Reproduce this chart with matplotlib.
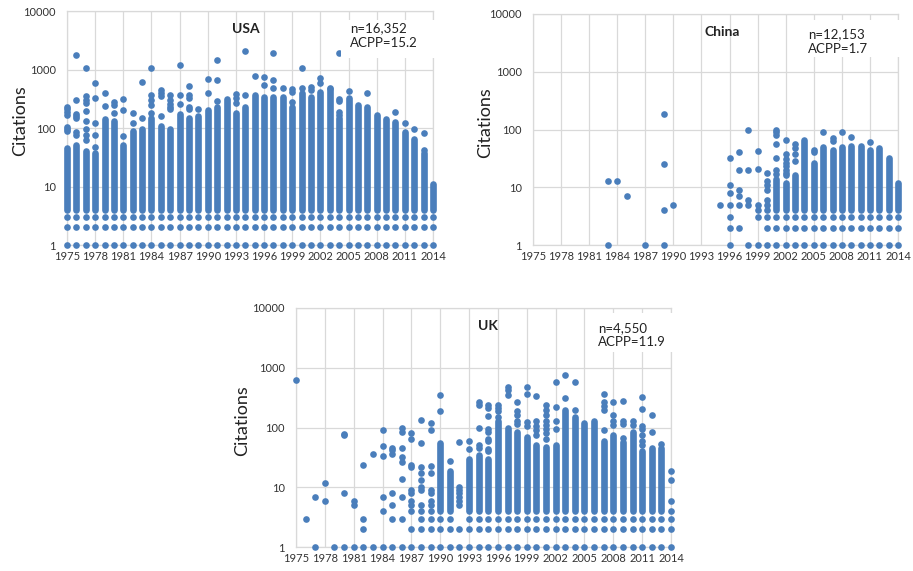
import matplotlib.pyplot as plt
from matplotlib.patches import Rectangle
from matplotlib.ticker import FixedLocator, FixedFormatter, NullLocator

plt.rcParams['font.family'] = ['Lato', 'DejaVu Sans']

years = list(range(1975, 2015))
tick_years = list(range(1975, 2015, 3))
y_ticks = [1, 10, 100, 1000, 10000]
y_tick_labels = ['1', '10', '100', '1000', '10000']

# columns drawn as a solid stack of dots from band_bottom up to band_top
# (0 = no solid stack that year); years with a stack also have the 1, 2, 3 rows
band_bottom = 4
band_base = [1, 2, 3]

usa_band_top = [45, 52, 40, 37, 140, 130, 52, 90, 95, 150,
                110, 95, 175, 150, 160, 200, 230, 310, 180, 230,
                360, 345, 340, 340, 230, 400, 340, 420, 470, 150,
                320, 250, 230, 165, 145, 128, 87, 66, 38, 11]
usa_points = [
    [230, 210, 185, 170, 105, 95, 88],
    [1750, 300, 175, 160, 150, 85, 75],
    [1050, 350, 300, 265, 195, 130, 98, 76, 62],
    [580, 330, 120, 76, 48],
    [400, 235],
    [280, 250, 180],
    [310, 205, 73],
    [180, 120],
    [600, 150],
    [1050, 370, 300, 250, 180],
    [440, 400, 350, 160],
    [360, 300, 260, 230, 210],
    [1190, 360, 260],
    [520, 360, 320, 230, 210],
    [215],
    [700, 400],
    [1430, 670, 290],
    [],
    [375, 330, 270],
    [2100, 365],
    [790],
    [750, 540],
    [1900, 650, 480],
    [490],
    [470, 420, 280],
    [1050, 490],
    [510, 450],
    [720, 580],
    [480],
    [1950, 310, 290, 190, 165],
    [430],
    [],
    [400],
    [],
    [],
    [190],
    [120],
    [95],
    [82, 42],
    [],
]
usa_stats = "n=16,352\nACPP=15.2"

china_band_top = [0] * 26 + [14, 12, 16, 67, 26, 50, 44, 50, 52, 52, 44, 47, 32, 12]
china_points = [
    [], [], [], [], [], [], [], [],
    [13, 1],
    [13],
    [7],
    [],
    [1],
    [],
    [185, 25, 4, 1],
    [5],
    [], [], [], [],
    [5],
    [32, 11, 8, 5, 3, 2, 1],
    [40, 20, 9, 7, 5, 2],
    [98, 20, 6, 5, 1],
    [42, 21, 5, 4, 3, 1],
    [18, 13, 11, 9, 6, 5, 4, 3, 2, 1],
    [100, 90, 80, 55, 32, 20, 17],
    [67, 38, 31, 26, 23, 20, 18, 16],
    [55, 47, 38, 28],
    [],
    [44, 40],
    [92],
    [70, 64],
    [92],
    [73],
    [],
    [60],
    [],
    [],
    [],
]
china_stats = "n=12,153\nACPP=1.7"

uk_band_top = [0] * 15 + [55, 19, 0, 30, 35, 30, 130, 100, 84, 69,
                          50, 47, 50, 200, 150, 120, 130, 60, 74, 57,
                          84, 40, 45, 45, 0]
uk_points = [
    [620],
    [3],
    [7, 1],
    [12, 6],
    [1],
    [78, 75, 8, 1],
    [6, 5, 1],
    [24, 3, 2, 1],
    [36, 1],
    [90, 49, 34, 7, 4, 1],
    [45, 42, 36, 8, 5, 3, 1],
    [100, 85, 46, 32, 26, 14, 7, 3, 1],
    [80, 65, 24, 22, 9, 8, 6, 5, 4, 2, 1],
    [135, 56, 22, 17, 13, 10, 9, 5, 4, 3, 2, 1],
    [120, 90, 23, 17, 9, 8, 6, 5, 4, 3, 2, 1],
    [355, 190],
    [28],
    [58, 10, 9, 8, 7, 6, 5, 2, 1],
    [60, 44],
    [270, 240, 100, 50, 45],
    [235, 215, 155, 95, 85, 65, 60, 44, 40],
    [235, 215, 190, 150],
    [470, 420, 345],
    [265, 190, 160, 130, 115],
    [470, 370, 125, 108],
    [340, 130, 105, 90, 75],
    [240, 195, 160, 130, 110, 95, 80, 65],
    [575, 220, 130, 95],
    [745, 315],
    [575, 195],
    [],
    [],
    [370, 265, 230, 195, 90],
    [265, 160, 130, 110],
    [280, 130, 115, 67],
    [130, 110],
    [320, 205, 108, 95, 75, 60, 50],
    [160, 84],
    [53],
    [19, 13, 6, 4, 3, 2, 1],
]
uk_stats = "n=4,550\nACPP=11.9"

BLUE = '#4a7ebb'
GRID = '#d9d9d9'
DOT = 4.8  # marker diameter, points

fig = plt.figure(figsize=(9.13, 5.71), dpi=100)
fig.patch.set_facecolor('white')


def draw_panel(rect, band_top, points, name, stats, name_xy, stats_xy, box, ylab_x):
    ax = fig.add_axes(rect)
    ax.set_yscale('log')
    ax.set_xlim(1975, 2014)
    ax.set_ylim(1, 10000)

    # solid columns
    bx = [yr for yr, t in zip(years, band_top) if t]
    bt = [t for t in band_top if t]
    ax.vlines(bx, band_bottom, bt, color=BLUE, linewidth=DOT,
              capstyle='round', clip_on=False, zorder=3)
    # single dots
    px, py = [], []
    for yr, t, vals in zip(years, band_top, points):
        for v in vals:
            px.append(yr)
            py.append(v)
        if t:
            for v in band_base:
                px.append(yr)
                py.append(v)
    ax.plot(px, py, 'o', color=BLUE, markersize=DOT, markeredgewidth=0,
            clip_on=False, zorder=3)

    ax.xaxis.set_major_locator(FixedLocator(tick_years))
    ax.set_xticklabels([str(y) for y in tick_years])
    ax.yaxis.set_major_locator(FixedLocator(y_ticks))
    ax.yaxis.set_major_formatter(FixedFormatter(y_tick_labels))
    ax.yaxis.set_minor_locator(NullLocator())
    ax.tick_params(axis='both', length=0, labelsize=8, colors='#333333')
    ax.tick_params(axis='x', pad=4)
    ax.tick_params(axis='y', pad=8)
    ax.grid(True, color=GRID, linewidth=0.9, zorder=0)
    ax.set_axisbelow(True)
    for sp in ax.spines.values():
        sp.set_color(GRID)
        sp.set_linewidth(0.9)

    ax.add_patch(Rectangle((box[0], box[1]), box[2] - box[0], box[3] - box[1],
                           transform=ax.transAxes, facecolor='white',
                           edgecolor='none', clip_on=False, zorder=5))
    ax.text(name_xy[0], name_xy[1], name, transform=ax.transAxes,
            fontsize=10, fontweight='bold', color='#222222', va='center', zorder=6)
    ax.text(stats_xy[0], stats_xy[1], stats, transform=ax.transAxes,
            fontsize=9.5, color='#222222', va='center', linespacing=1.25, zorder=6)
    ax.text(ylab_x, 0.53, 'Citations', transform=ax.transAxes, rotation=90,
            fontsize=13, color='#222222', ha='center', va='center')
    return ax


draw_panel([0.0734, 0.5709, 0.4009, 0.4098], usa_band_top, usa_points, 'USA',
           usa_stats, (0.45, 0.923), (0.773, 0.895),
           (0.749, 0.799, 1.01, 0.962), -0.128)
draw_panel([0.5838, 0.5709, 0.3998, 0.4046], china_band_top, china_points, 'China',
           china_stats, (0.471, 0.922), (0.753, 0.881),
           (0.732, 0.814, 1.01, 0.974), -0.131)
draw_panel([0.3242, 0.0420, 0.4107, 0.4186], uk_band_top, uk_points, 'UK',
           uk_stats, (0.485, 0.925), (0.805, 0.887),
           (0.784, 0.816, 1.01, 0.979), -0.144)

fig.savefig('out.png', dpi=100)
